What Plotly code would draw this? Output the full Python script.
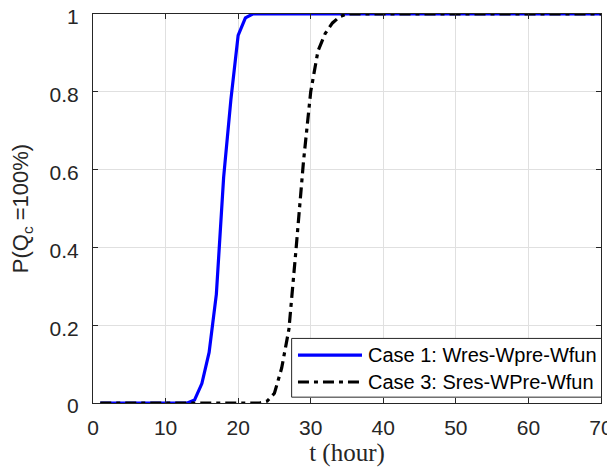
import plotly.graph_objects as go

t_hours = list(range(1, 71))

case1_vals = [0.0] * 13 + [0.008, 0.05, 0.13, 0.28, 0.58, 0.78, 0.945, 0.99] + [1.0] * 49
case3_vals = [0.0] * 23 + [0.005, 0.025, 0.09, 0.19, 0.40, 0.62, 0.80, 0.905, 0.95, 0.977, 0.993] + [1.0] * 36

series_names = ["Case 1: Wres-Wpre-Wfun", "Case 3: Sres-WPre-Wfun"]
series_colors = ["#0000ff", "#000000"]
series_dash = ["solid", "11px,5px,4px,5px"]

x_ticks = [0, 10, 20, 30, 40, 50, 60, 70]
y_ticks = [0, 0.2, 0.4, 0.6, 0.8, 1]
y_tick_labels = ["0", "0.2", "0.4", "0.6", "0.8", "1"]

fig = go.Figure()
for vals, name, color, dash in zip([case1_vals, case3_vals], series_names, series_colors, series_dash):
    fig.add_trace(go.Scatter(x=t_hours, y=vals, mode="lines", name=name,
                             line=dict(color=color, width=3.2, dash=dash),
                             cliponaxis=False, showlegend=False))

axis_common = dict(showline=True, linecolor="#262626", linewidth=1, mirror="ticks",
                   ticks="inside", ticklen=5, tickcolor="#262626", automargin=False,
                   ticklabeloverflow="allow",
                   showgrid=True, gridcolor="#e0e0e0", gridwidth=1, zeroline=False,
                   tickfont=dict(family="Liberation Sans, Arial", size=21, color="#262626"))

fig.update_xaxes(range=[0, 70], tickvals=x_ticks, ticklabelstandoff=6,
                 title=dict(text="t (hour)", font=dict(family="Liberation Serif, Times New Roman", size=25, color="#262626"), standoff=2),
                 **axis_common)
fig.update_yaxes(range=[0, 1], tickvals=y_ticks, ticktext=y_tick_labels, ticklabelstandoff=9,
                 ticklabelshift=3,
                 title=dict(text="P(Q<sub>c</sub> =100%)", font=dict(family="Liberation Sans, Arial", size=22, color="#262626"), standoff=14),
                 **axis_common)

# custom legend box (MATLAB style, long line samples)
leg_x0, leg_x1, leg_y0, leg_y1 = 0.391, 1.001, 0.015, 0.166
row_y = [0.123, 0.054]
sample_x0, sample_x1, text_x = 0.4035, 0.5295, 0.537
shapes = [dict(type="rect", xref="paper", yref="paper", x0=leg_x0, x1=leg_x1, y0=leg_y0, y1=leg_y1,
               line=dict(color="#262626", width=1), fillcolor="white", layer="above")]
annotations = []
for ry, name, color, dash in zip(row_y, series_names, series_colors, series_dash):
    shapes.append(dict(type="line", xref="paper", yref="paper", x0=sample_x0, x1=sample_x1, y0=ry, y1=ry,
                       line=dict(color=color, width=3.2, dash=dash), layer="above"))
    annotations.append(dict(xref="paper", yref="paper", x=text_x, y=ry, text=name, showarrow=False,
                            xanchor="left", yanchor="middle",
                            font=dict(family="Liberation Sans, Arial", size=20, color="#000000")))

# page body has an 8px margin, so the figure is sized/offset to land on the reference positions
fig.update_layout(width=607, height=463, plot_bgcolor="white", paper_bgcolor="white",
                  margin=dict(l=85, r=14, t=6, b=68), showlegend=False,
                  shapes=shapes, annotations=annotations)

fig.write_html("out.html")
